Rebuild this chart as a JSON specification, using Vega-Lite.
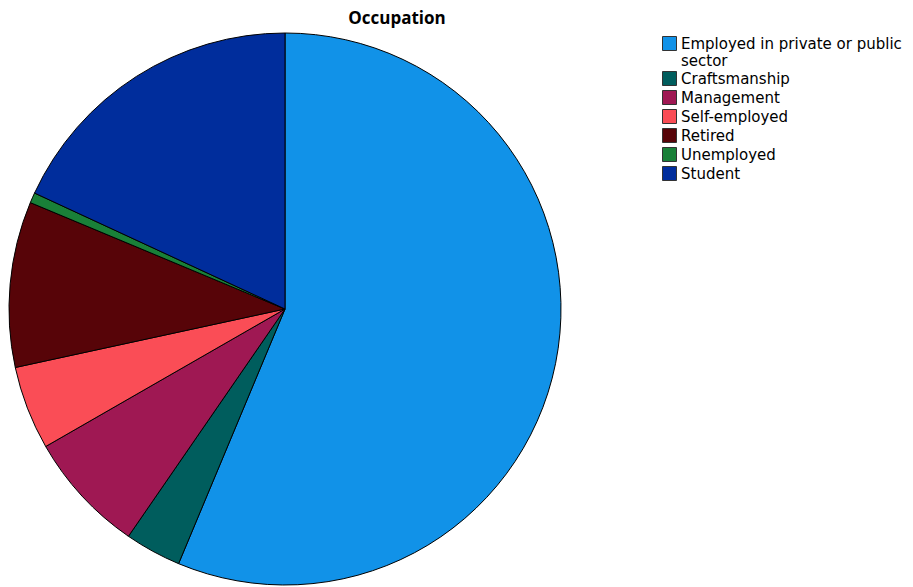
{
  "$schema": "https://vega.github.io/schema/vega-lite/v6.json",
  "autosize": "none",
  "width": 552,
  "height": 552,
  "padding": {"left": 9, "top": 33, "right": 352, "bottom": 2},
  "background": "white",
  "title": {"text": "Occupation", "anchor": "middle", "dx": 112, "offset": 3, "font": "Open Sans", "fontSize": 17, "fontWeight": "bold", "color": "black"},
  "data": {"values": [
    {"occupation": "Employed in private or public sector", "pct": 56.3, "ord": 1},
    {"occupation": "Craftsmanship", "pct": 3.3, "ord": 2},
    {"occupation": "Management", "pct": 7.1, "ord": 3},
    {"occupation": "Self-employed", "pct": 4.9, "ord": 4},
    {"occupation": "Retired", "pct": 9.7, "ord": 5},
    {"occupation": "Unemployed", "pct": 0.6, "ord": 6},
    {"occupation": "Student", "pct": 18.1, "ord": 7}
  ]},
  "mark": {"type": "arc", "outerRadius": 276, "stroke": "black", "strokeWidth": 1},
  "encoding": {
    "theta": {"field": "pct", "type": "quantitative", "stack": true},
    "order": {"field": "ord", "type": "quantitative"},
    "color": {
      "field": "occupation", "type": "nominal",
      "scale": {
        "domain": ["Employed in private or public sector", "Craftsmanship", "Management", "Self-employed", "Retired", "Unemployed", "Student"],
        "range": ["#1192e8", "#005d5d", "#9f1853", "#fa4d56", "#570408", "#198038", "#002d9c"]
      },
      "legend": {
        "title": null,
        "orient": "none",
        "legendX": 653,
        "legendY": 3,
        "symbolType": "square",
        "symbolSize": 196,
        "symbolStrokeColor": "#333",
        "symbolStrokeWidth": 1,
        "symbolOpacity": 1,
        "labelFont": "DejaVu Sans",
        "labelFontSize": 15,
        "labelColor": "black",
        "labelLimit": 300,
        "labelOffset": 4,
        "rowPadding": 0,
        "labelExpr": "datum.label == 'Employed in private or public sector' ? ['Employed in private or public', 'sector'] : datum.label"
      }
    }
  },
  "config": {"view": {"stroke": null}}
}
